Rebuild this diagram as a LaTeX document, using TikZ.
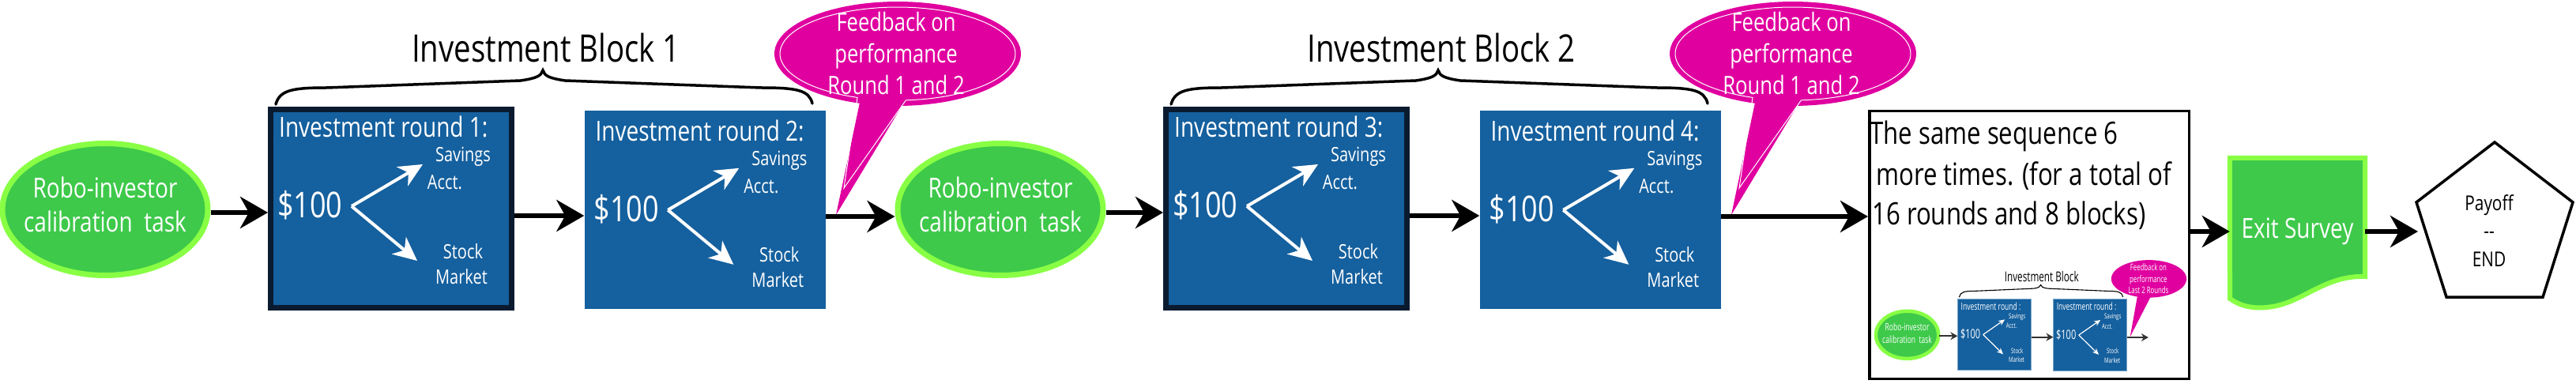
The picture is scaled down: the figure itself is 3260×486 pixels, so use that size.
\documentclass[tikz,border=0pt]{standalone}
\usepackage{fontspec}
\setmainfont{Open Sans}[FakeStretch=0.8]
\usetikzlibrary{arrows.meta,shapes.geometric,calc}

\definecolor{rbblue}{RGB}{21,96,158}
\definecolor{rbnavy}{RGB}{10,27,48}
\definecolor{rbgreen}{RGB}{62,201,74}
\definecolor{rblime}{RGB}{136,255,68}
\definecolor{rbmag}{RGB}{224,0,160}

\newcommand{\fs}[2]{\fontsize{#1}{#2}\selectfont}

\tikzset{
  ell/.style={ellipse, fill=rbgreen, draw=rblime, line width=7pt, minimum width=260pt, minimum height=167pt, inner sep=0pt},
  elltxt/.style={text=white, font=\fs{35}{43}, align=center, inner sep=0pt},
  rbox/.style={rectangle, fill=rbblue, draw=none, minimum width=305pt, minimum height=251pt, inner sep=0pt},
  rboxb/.style={rbox, draw=rbnavy, line width=7pt},
  conn/.style={line width=6pt, -{Stealth[length=35pt,width=40pt,inset=11pt]}},
  warrow/.style={white, line width=4pt, -{Stealth[length=30pt,width=28pt,inset=9pt]}},
  bracestyle/.style={line width=3.5pt, line cap=round},
  bubline/.style={draw=white, line width=1pt},
  wtxt/.style={text=white, inner sep=0pt},
  rtitle/.style={wtxt, font=\fs{35}{40}, anchor=base west},
  rdollar/.style={wtxt, font=\fs{45}{50}, anchor=base west},
  rsmall/.style={wtxt, font=\fs{25}{30}, anchor=base},
  btitle/.style={font=\fs{48}{56}, anchor=base, inner sep=0pt},
  bubtxt/.style={text=white, font=\fs{32}{40}, align=center, inner sep=0pt},
  seqtxt/.style={font=\fs{39}{50}, anchor=base west, inner sep=0pt},
}

% contents of one investment-round box
\newcommand{\roundcontent}[2]{%
  \node[rtitle] (#1-t) at ($(#1.north west)+(14,39)$) {#2};
  \node[rdollar] (#1-d) at ($(#1.north west)+(12,141)$) {\$100};
  \coordinate (#1-v) at ($(#1.north west)+(106,126)$);
  \coordinate (#1-vs) at ($(#1.north west)+(196,73)$);
  \coordinate (#1-vm) at ($(#1.north west)+(189,195)$);
  \node[rsmall] (#1-s1) at ($(#1.north west)+(247,70)$) {Savings};
  \node[rsmall] (#1-s2) at ($(#1.north west)+(224,105)$) {Acct.};
  \node[rsmall] (#1-m1) at ($(#1.north west)+(247,192)$) {Stock};
  \node[rsmall] (#1-m2) at ($(#1.north west)+(245,224)$) {Market};
  \draw[warrow] (#1-v) -- (#1-vs);
  \draw[warrow] (#1-v) -- (#1-vm);
}

% one investment block: calibration, two rounds, brace, feedback
\newcommand{\drawblock}[5]{%
  \node[ell] (#1-ell) at (133,265) {};
  \node[elltxt] (#1-elltxt) at (133,259) {Robo-investor\\calibration\ \ task};
  \node[rboxb] (#1-ra) at (495,264) {};
  \node[rbox] (#1-rb) at (892,265.5) {};
  \roundcontent{#1-ra}{#3}
  \roundcontent{#1-rb}{#4}
  \coordinate (#1-p1) at (300,269);
  \coordinate (#1-p2) at (700,273);
  \coordinate (#1-out) at (1134,274);
  \draw[conn] (#1-ell.east |- #1-p1) -- (#1-ra.west |- #1-p1);
  \draw[conn] (#1-ra.east |- #1-p2) -- (#1-rb.west |- #1-p2);
  \draw[bracestyle] (349,132) .. controls (354,114) and (370,111) .. (414,111)
     -- (659,102) .. controls (679,99) and (685,96) .. (687,89)
     .. controls (689,96) and (695,99) .. (715,102)
     -- (963,111) .. controls (1008,111) and (1024,114) .. (1028,131);
  \node[btitle] (#1-title) at (691,79) {#2};
  \fill[rbmag] (1058,272) -- plot[domain=108:448, samples=90] ({1136+156*cos(\x)},{68+66*sin(\x)}) -- cycle;
  \draw[bubline] (1068,238) -- plot[domain=110:446, samples=90] ({1136+149*cos(\x)},{68+59*sin(\x)}) -- cycle;
  \node[bubtxt] (#1-bub) at (1134,68) {Feedback on\\performance\\#5};
}

\begin{document}
\begin{tikzpicture}[x=1pt, y=-1pt, line join=miter]
\useasboundingbox (0,0) rectangle (3260,486);
\fill[white] (0,0) rectangle (3260,486);

% block 1
\drawblock{a}{Investment Block 1}{Investment round 1:}{Investment round 2:}{Round 1 and 2}
% block 2
\begin{scope}[xshift=1133pt]
\drawblock{b}{Investment Block 2}{Investment round 3:}{Investment round 4:}{Round 1 and 2}
\end{scope}

\draw[conn] (a-rb.east |- a-out) -- (b-ell.west |- a-out);

% summary box
\node[draw=black, fill=white, line width=3.5pt, minimum width=404.5pt, minimum height=338.5pt, inner sep=0pt] (bigbox) at (2568,310) {};
\draw[conn] (b-rb.east |- b-out) -- (bigbox.west |- b-out);
\node[seqtxt] (seq1) at (2366,183) {The same sequence 6};
\node[seqtxt] (seq2) at (2366,235) {\ more times. (for a total of};
\node[seqtxt] (seq3) at (2369,284) {16 rounds and 8 blocks)};

% miniature block
\begin{scope}[shift={(2373,328.4)}, xscale=0.305, yscale=0.36, transform shape,
  ell/.style={ellipse, fill=rbgreen, draw=rblime, line width=4.5pt, minimum width=260pt, minimum height=167pt, inner sep=0pt},
  rbox/.style={rectangle, fill=rbblue, draw=rbblue!55!white, line width=0.8pt, minimum width=305pt, minimum height=251pt, inner sep=0pt},
  rboxb/.style={rbox},
  conn/.style={draw=black!80, line width=1.8pt, -{Stealth[length=9pt,width=10pt,inset=3pt]}},
  warrow/.style={white, line width=1.2pt, -{Stealth[length=8pt,width=7pt,inset=2.5pt]}},
  bracestyle/.style={line width=1.1pt, line cap=round},
  bubline/.style={draw=none}]
\drawblock{m}{Investment Block}{Investment round :}{Investment round :}{Last 2 Rounds}
\draw[conn] (m-rb.east |- m-out) -- (m-out);
\end{scope}

% exit survey
\node[inner sep=0pt, minimum width=171pt, minimum height=186pt, text=white, font=\fs{35}{40}] (exit) at (2907.5,293) {Exit Survey};
\filldraw[fill=rbgreen, draw=rblime, line width=6pt]
  (exit.north west) -- (exit.north east) -- (2993,350)
  .. controls (2940,348) and (2912,386) .. (2868,389)
  .. controls (2848,391) and (2833,386) .. (2822,378) -- cycle;
\node[inner sep=0pt, text=white, font=\fs{35}{40}] (exittxt) at (exit) {Exit Survey};
\draw[conn] (bigbox.east |- exit.west) -- (exit.west);

% payoff pentagon
\draw[line width=3.5pt, fill=white] (3157,180) -- (3256,256) -- (3218,376) -- (3096,376) -- (3058,256) -- cycle;
\coordinate (pentin) at (3060,293);
\node[font=\fs{26}{35.5}, align=center, inner sep=0pt] (pay) at (3150,292) {Payoff\\-{}-\\END};
\draw[conn] (exit.east) -- (pentin);
\end{tikzpicture}
\end{document}
